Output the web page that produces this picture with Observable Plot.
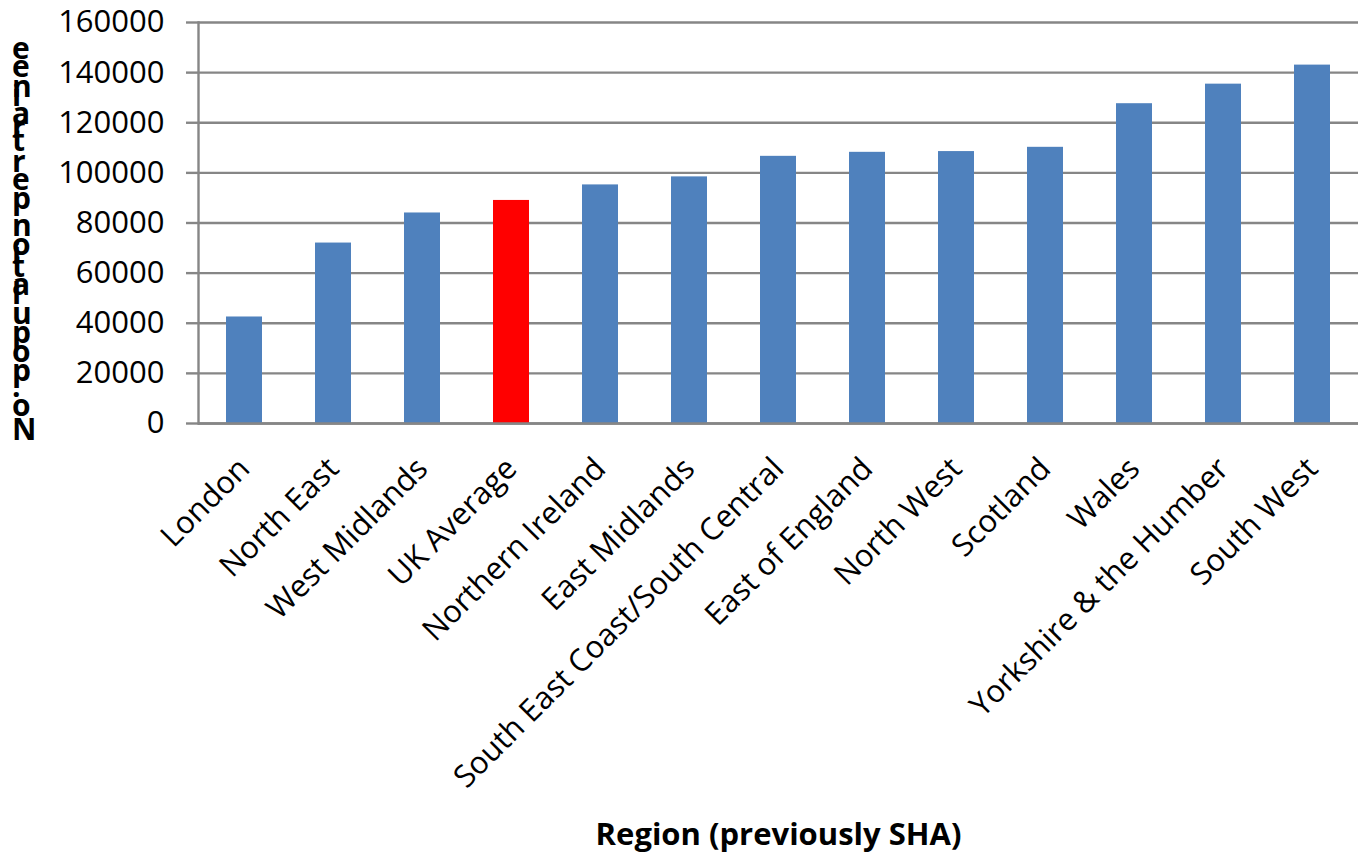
<!DOCTYPE html>
<html>
<head>
<meta charset="utf-8">
<script src="https://cdn.jsdelivr.net/npm/d3@7"></script>
<script src="https://cdn.jsdelivr.net/npm/@observablehq/plot@0.6"></script>
<style>
  html, body { margin: 0; padding: 0; background: #fff; }
  #chart svg { display: block; }
</style>
</head>
<body>
<div id="chart"></div>
<script>
// Population served per trainee, by region (previously SHA)
const regions = [
  "London", "North East", "West Midlands", "UK Average", "Northern Ireland",
  "East Midlands", "South East Coast/South Central", "East of England",
  "North West", "Scotland", "Wales", "Yorkshire & the Humber", "South West"
];
const populationPerTrainee = [
  42500, 72000, 84000, 89000, 95200, 98400, 106600, 108200, 108500, 110200,
  127600, 135400, 143000
];
const averageRegion = "UK Average";
const yTicks = [0, 20000, 40000, 60000, 80000, 100000, 120000, 140000, 160000];
const xTitle = "Region (previously SHA)";
const yTitle = "No. population per trainee";

const data = regions.map((region, i) => ({
  region,
  value: populationPerTrainee[i],
  kind: region === averageRegion ? "average" : "region"
}));

const FONT = "'Open Sans', 'DejaVu Sans', sans-serif";
const GRID = "#868686";

const chart = Plot.plot({
  width: 1367,
  height: 859,
  marginLeft: 198,
  marginRight: 9,
  marginTop: 22,
  marginBottom: 436,
  style: { fontFamily: FONT, fontSize: "31px", color: "#000", background: "#fff" },
  x: { domain: regions, paddingInner: 0.6, paddingOuter: 0.3, label: null },
  y: { domain: [0, 160000], label: null },
  color: { domain: ["region", "average"], range: ["#4F81BD", "#FF0000"] },
  marks: [
    Plot.ruleY(yTicks, { stroke: GRID, strokeWidth: 2.4 }),
    Plot.barY(data, { x: "region", y: "value", fill: "kind" }),
    Plot.ruleY([0], { stroke: GRID, strokeWidth: 2.4 }),
    Plot.frame({ anchor: "left", stroke: GRID, strokeWidth: 2.4 }),
    Plot.axisY({
      ticks: yTicks, tickFormat: d3.format("d"), tickSize: 12, tickPadding: 22,
      stroke: GRID, strokeWidth: 2.4, strokeOpacity: 1, fill: "#000", fontSize: 31, label: null
    }),
    Plot.axisX({ tickSize: 0, tickRotate: -45, tickPadding: 40, fill: "#000", fontSize: 31, label: null }),
    Plot.text([xTitle], {
      frameAnchor: "bottom", dy: 421, fontWeight: "bold", fontSize: 31, fill: "#000"
    })
  ]
});

document.getElementById("chart").appendChild(chart);

// Y-axis title: a line of text running bottom-to-top whose glyphs are turned upright
d3.select(chart).append("text")
  .attr("transform", "translate(12,440) rotate(-90)")
  .attr("rotate", "90")
  .attr("text-anchor", "start")
  .attr("font-family", FONT)
  .attr("font-weight", "bold")
  .attr("font-size", 30)
  .attr("fill", "#000")
  .text(yTitle);
</script>
</body>
</html>
